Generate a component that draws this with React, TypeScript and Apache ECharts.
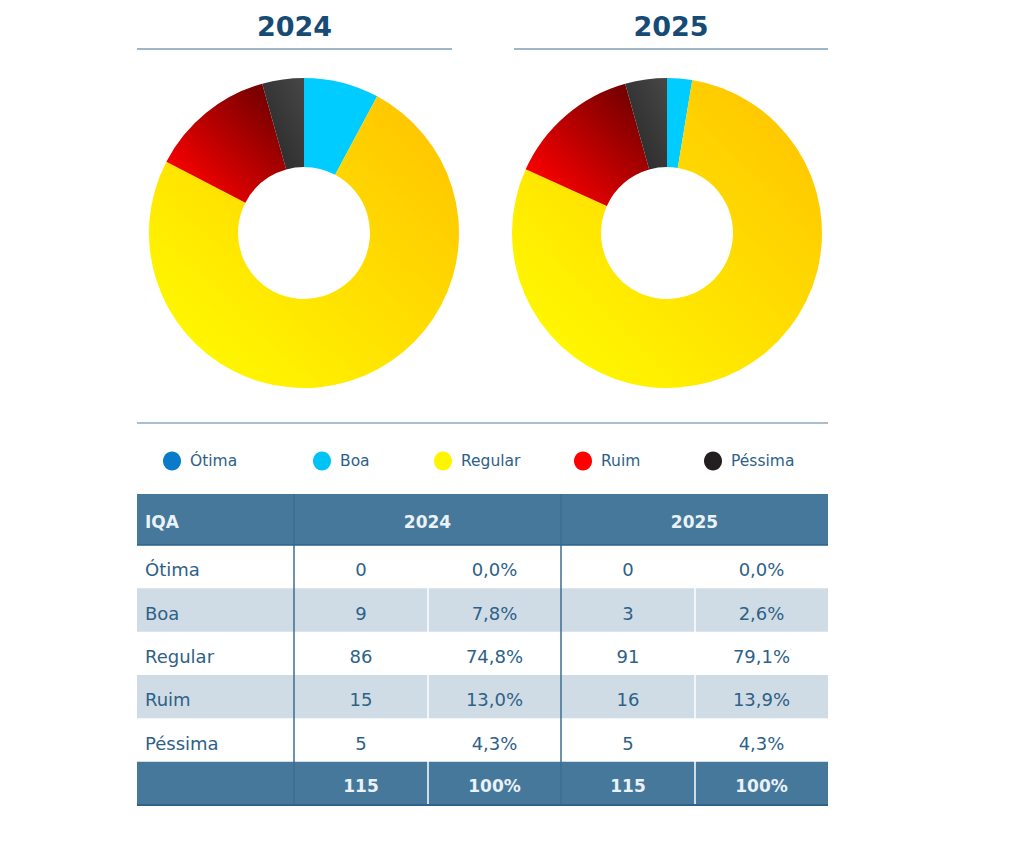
import React, { useEffect, useRef } from 'react';
import * as echarts from 'echarts';

// IQA classes and station counts per year
const categories = ['Ótima', 'Boa', 'Regular', 'Ruim', 'Péssima'];
const years = ['2024', '2025'];
const counts2024 = [0, 9, 86, 15, 5];
const counts2025 = [0, 3, 91, 16, 5];

// legend swatch colours and slice gradients (bottom-left -> top-right)
const legendColors = ['#0A7BC9', '#00C3F5', '#FFF500', '#FF0000', '#231F20'];
const sliceFrom = ['#0A7BC9', '#00CCFF', '#FFF800', '#FF0000', '#2A2A2A'];
const sliceTo = ['#0A7BC9', '#00CCFF', '#FFC000', '#600000', '#474747'];

const FONT = 'DejaVu Sans';
const TITLE_COLOR = '#154B75';
const TEXT_COLOR = '#2E6187';
const HEADER_BG = '#45789B';
const SHADE_BG = '#D0DCE5';
const HEADER_TEXT = '#EAF2F8';

const fmtPct = (v: number, total: number) =>
  ((v / total) * 100).toFixed(1).replace('.', ',') + '%';

function buildOption() {
  const allCounts = [counts2024, counts2025];
  const pieCenters = [
    [304, 233],
    [667, 233],
  ];
  const titleX = [294.5, 671];
  const titleLines = [
    [137, 452],
    [514, 828],
  ];

  const series = allCounts.map((counts, s) => ({
    type: 'pie',
    name: years[s],
    center: pieCenters[s],
    radius: [66, 155],
    startAngle: 90,
    clockwise: true,
    silent: true,
    label: { show: false },
    labelLine: { show: false },
    emphasis: { disabled: true },
    data: categories.map((c, i) => ({
      name: c,
      value: counts[i],
      itemStyle: {
        color: new echarts.graphic.LinearGradient(0, 1, 1, 0, [
          { offset: 0, color: sliceFrom[i] },
          { offset: 0.12, color: sliceFrom[i] },
          { offset: 1, color: sliceTo[i] },
        ]),
        borderWidth: 0,
      },
    })),
  }));

  const g: any[] = [];

  // year titles with underline
  years.forEach((y, s) => {
    g.push({
      type: 'text',
      style: {
        text: y,
        x: titleX[s],
        y: 26,
        fill: TITLE_COLOR,
        fontFamily: FONT,
        fontWeight: 'bold',
        fontSize: 27,
        textAlign: 'center',
        textVerticalAlign: 'middle',
      },
    });
    g.push({
      type: 'line',
      shape: { x1: titleLines[s][0], y1: 49, x2: titleLines[s][1], y2: 49 },
      style: { stroke: '#9DB6CB', lineWidth: 2 },
    });
  });

  // separator above the legend
  g.push({
    type: 'line',
    shape: { x1: 137, y1: 423, x2: 828, y2: 423 },
    style: { stroke: '#8EA9C1', lineWidth: 1.5 },
  });

  // legend
  const legendX = [172, 322, 443, 583, 713];
  categories.forEach((c, i) => {
    g.push({
      type: 'ellipse',
      shape: { cx: legendX[i], cy: 461, rx: 9, ry: 9.5 },
      style: { fill: legendColors[i] },
    });
    g.push({
      type: 'text',
      style: {
        text: c,
        x: legendX[i] + 18,
        y: 461,
        fill: TEXT_COLOR,
        fontFamily: FONT,
        fontSize: 15.5,
        textAlign: 'left',
        textVerticalAlign: 'middle',
      },
    });
  });

  // table
  const cols = [137, 294, 428, 561, 695, 828];
  const headTop = 494;
  const headBottom = 545;
  const tableBottom = 805;
  const rowH = (tableBottom - headBottom) / (categories.length + 1);
  const textShift = 3;

  g.push({
    type: 'rect',
    shape: { x: cols[0], y: headTop, width: cols[5] - cols[0], height: headBottom - headTop },
    style: { fill: HEADER_BG },
  });
  categories.forEach((_, i) => {
    if (i % 2 === 1) {
      g.push({
        type: 'rect',
        shape: { x: cols[0], y: headBottom + i * rowH, width: cols[5] - cols[0], height: rowH },
        style: { fill: SHADE_BG },
      });
    }
  });
  const totalTop = headBottom + categories.length * rowH;
  g.push({
    type: 'rect',
    shape: { x: cols[0], y: totalTop, width: cols[5] - cols[0], height: rowH },
    style: { fill: HEADER_BG },
  });

  // white dividers between count and percentage columns
  [cols[2], cols[4]].forEach((x) => {
    g.push({
      type: 'line',
      shape: { x1: x, y1: headBottom, x2: x, y2: tableBottom },
      style: { stroke: '#FFFFFF', lineWidth: 1.5 },
    });
  });
  // year column separators
  [cols[1], cols[3]].forEach((x) => {
    g.push({
      type: 'line',
      shape: { x1: x, y1: headTop, x2: x, y2: tableBottom },
      style: { stroke: '#3C6E91', lineWidth: 1.5 },
    });
  });
  g.push({
    type: 'line',
    shape: { x1: cols[0], y1: headBottom, x2: cols[5], y2: headBottom },
    style: { stroke: '#2D6388', lineWidth: 1.5 },
  });
  g.push({
    type: 'line',
    shape: { x1: cols[0], y1: tableBottom, x2: cols[5], y2: tableBottom },
    style: { stroke: '#2D6388', lineWidth: 2 },
  });

  const cellText = (text: string, x: number, y: number, align: string, bold: boolean, fill: string) => ({
    type: 'text',
    style: {
      text,
      x,
      y,
      fill,
      fontFamily: FONT,
      fontWeight: bold ? 'bold' : 'normal',
      fontSize: bold ? 17 : 18,
      textAlign: align,
      textVerticalAlign: 'middle',
    },
  });

  const mid = (a: number, b: number) => (a + b) / 2;
  const headY = mid(headTop, headBottom) + 2;
  g.push(cellText('IQA', cols[0] + 8, headY, 'left', true, HEADER_TEXT));
  g.push(cellText(years[0], mid(cols[1], cols[3]), headY, 'center', true, HEADER_TEXT));
  g.push(cellText(years[1], mid(cols[3], cols[5]), headY, 'center', true, HEADER_TEXT));

  const totals = allCounts.map((arr) => arr.reduce((a, b) => a + b, 0));
  categories.forEach((c, i) => {
    const y = headBottom + i * rowH + rowH / 2 + textShift;
    g.push(cellText(c, cols[0] + 8, y, 'left', false, TEXT_COLOR));
    allCounts.forEach((arr, s) => {
      g.push(cellText(String(arr[i]), mid(cols[1 + 2 * s], cols[2 + 2 * s]), y, 'center', false, TEXT_COLOR));
      g.push(cellText(fmtPct(arr[i], totals[s]), mid(cols[2 + 2 * s], cols[3 + 2 * s]), y, 'center', false, TEXT_COLOR));
    });
  });
  const totalY = totalTop + rowH / 2 + textShift;
  totals.forEach((t, s) => {
    g.push(cellText(String(t), mid(cols[1 + 2 * s], cols[2 + 2 * s]), totalY, 'center', true, HEADER_TEXT));
    g.push(cellText('100%', mid(cols[2 + 2 * s], cols[3 + 2 * s]), totalY, 'center', true, HEADER_TEXT));
  });

  return {
    animation: false,
    backgroundColor: '#FFFFFF',
    series,
    graphic: { elements: g },
  };
}

export default function App() {
  const ref = useRef<HTMLDivElement>(null);
  useEffect(() => {
    if (!ref.current) return;
    const chart = echarts.init(ref.current, undefined, { renderer: 'svg' });
    chart.setOption(buildOption() as any);
    return () => chart.dispose();
  }, []);
  return (
    <div
      ref={ref}
      style={{ position: 'fixed', left: 0, top: 0, width: 1024, height: 843 }}
    />
  );
}
